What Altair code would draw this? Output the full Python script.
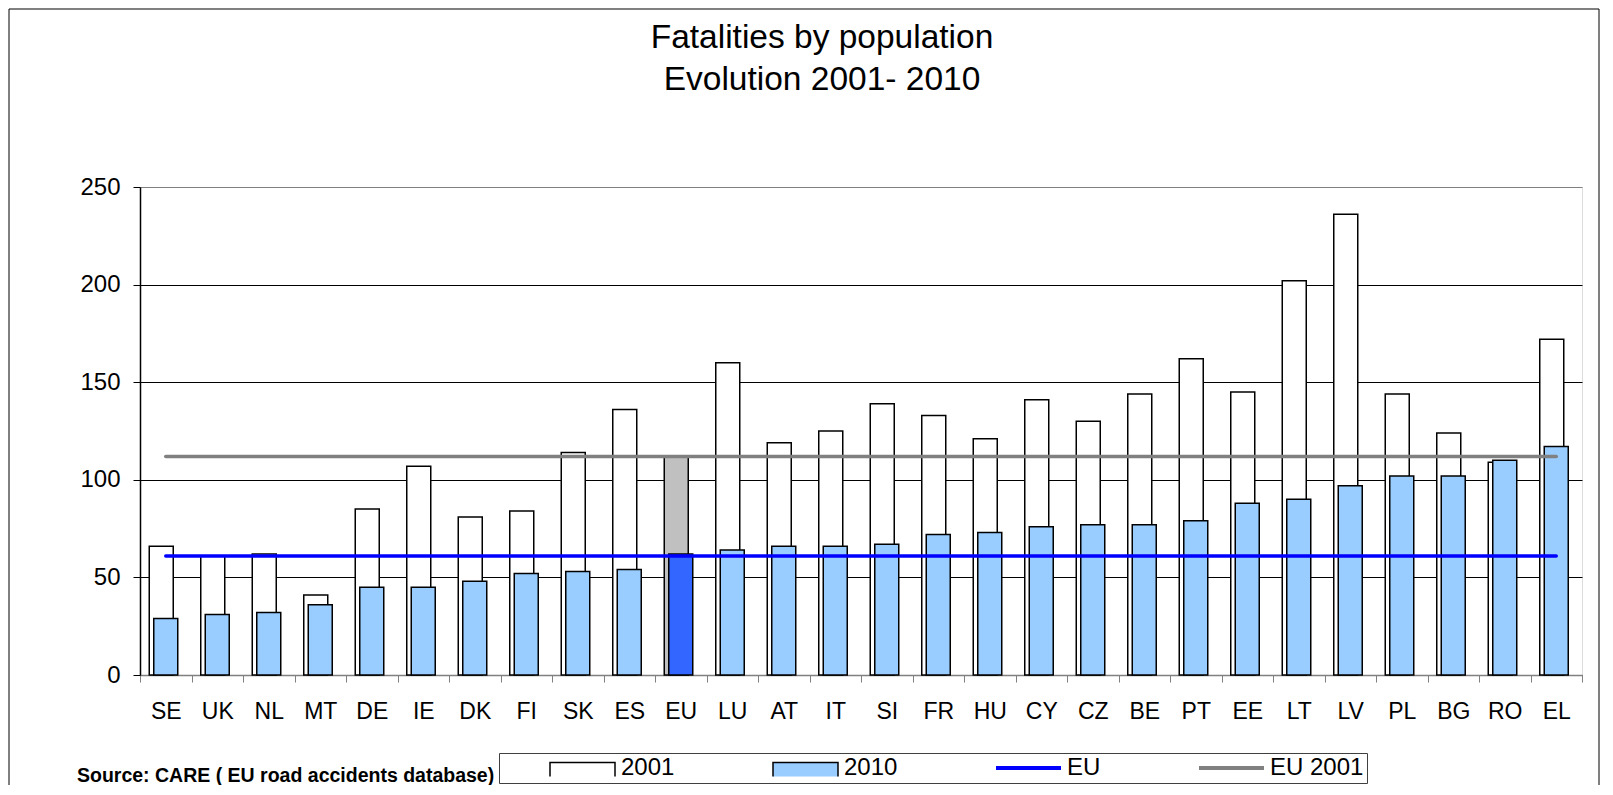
import altair as alt
import pandas as pd

# ---------------- data ----------------
countries = ["SE", "UK", "NL", "MT", "DE", "IE", "DK", "FI", "SK", "ES", "EU", "LU", "AT", "IT",
             "SI", "FR", "HU", "CY", "CZ", "BE", "PT", "EE", "LT", "LV", "PL", "BG", "RO", "EL"]
fat_2001 = [66, 61, 62, 41, 85, 107, 81, 84, 114, 136, 112, 160, 119, 125,
            139, 133, 121, 141, 130, 144, 162, 145, 202, 236, 144, 124, 109, 172]
fat_2010 = [29, 31, 32, 36, 45, 45, 48, 52, 53, 54, 62, 64, 66, 66,
            67, 72, 73, 76, 77, 77, 79, 88, 90, 97, 102, 102, 110, 117]
eu_avg_2010 = 61
eu_avg_2001 = 112
series = ["2001", "2010", "EU", "EU 2001"]
bar_fill = ["#FFFFFF", "#99CCFF"]
line_colors = ["#0000FF", "#808080"]
eu_bar_colors = ["#C0C0C0", "#3366FF"]
line_series = ["EU", "EU 2001"]
title_lines = ["Fatalities by population", "Evolution 2001- 2010"]
source_note = "Source: CARE ( EU road accidents database)"
y_ticks = [0, 50, 100, 150, 200, 250]

FONT = "Liberation Sans, Arial, sans-serif"

bars = pd.DataFrame({"country": countries, "v2001": fat_2001, "v2010": fat_2010})
lines = pd.DataFrame(
    [{"country": c, "series": s, "value": v}
     for s, v in zip(line_series, [eu_avg_2010, eu_avg_2001]) for c in countries]
)
note = pd.DataFrame({"t": [source_note]})
frame_df = pd.DataFrame({"k": [0]})

x_enc = alt.X(
    "country:N", sort=countries,
    scale=alt.Scale(domain=countries, paddingInner=0, paddingOuter=0),
    axis=alt.Axis(title=None, labelAngle=0, tickBand="extent", tickSize=7,
                  tickColor="#808080", domainColor="#808080", domainWidth=1.5,
                  labelFontSize=23, labelPadding=18, labelColor="black",
                  labelFont=FONT, grid=False),
)
y_scale = alt.Scale(domain=[0, 250], nice=False, zero=True)
y_axis = alt.Axis(title=None, values=y_ticks, tickSize=7, tickColor="black",
                  domainColor="black", domainWidth=1.5, labelFontSize=24,
                  labelPadding=13, labelColor="black", labelFont=FONT,
                  grid=True, gridWidth=1,
                  gridColor={"condition": {"test": "datum.value === 250", "value": "#808080"},
                             "value": "#000000"})

is_line = "indexof(" + str(line_series) + ", datum.value) >= 0"
fill_expr = ("datum.value === '" + series[0] + "' ? '" + bar_fill[0] + "' : datum.value === '"
             + series[1] + "' ? '" + bar_fill[1] + "' : 'transparent'")
pad_nbsp = "\u00a0" * 5
legend = alt.Legend(
    title=None, orient="none", legendX=359, legendY=566, direction="horizontal",
    columns=4, padding=3, strokeColor="#404040", fillColor="white",
    symbolSize=100, labelFont=FONT, labelFontSize=24, labelColor="black",
    labelOffset=95, columnPadding=50, gridAlign="none", labelLimit=400,
    labelExpr="datum.label === '" + series[-1] + "' ? datum.label + '" + pad_nbsp + "' : datum.label",
    symbolType={"expr": is_line + " ? 'M7.2,0H20.2' : 'M7.2,1.7V-1.1H20.2V1.7'"},
    symbolFillColor={"expr": fill_expr},
    symbolStrokeWidth={"expr": is_line + " ? 4 : 1.5"},
    symbolOpacity=1,
)

bar2001 = alt.Chart(bars).mark_bar(width=24, xOffset=-4.5, stroke="black", strokeWidth=1.5).encode(
    x=x_enc,
    y=alt.Y("v2001:Q", scale=y_scale, axis=y_axis),
    fill=alt.condition(alt.datum.country == "EU", alt.value(eu_bar_colors[0]), alt.value(bar_fill[0])),
)
bar2010 = alt.Chart(bars).mark_bar(width=24, xOffset=0, stroke="black", strokeWidth=1.5).encode(
    x=x_enc,
    y=alt.Y("v2010:Q", scale=y_scale, axis=y_axis),
    fill=alt.condition(alt.datum.country == "EU", alt.value(eu_bar_colors[1]), alt.value(bar_fill[1])),
)
line_layer = alt.Chart(lines).mark_line(strokeWidth=3.5, strokeCap="round").encode(
    x=x_enc,
    y=alt.Y("value:Q", scale=y_scale, axis=y_axis),
    color=alt.Color("series:N",
                    scale=alt.Scale(domain=series, range=["#000000", "#000000"] + line_colors),
                    legend=legend),
)
note_layer = alt.Chart(note).mark_text(
    align="left", baseline="alphabetic", fontSize=19.5, fontWeight="bold", font=FONT, color="black"
).encode(x=alt.value(-63), y=alt.value(595), text="t:N")

title_layers = [
    alt.Chart(pd.DataFrame({"t": [line]})).mark_text(
        align="center", baseline="alphabetic", fontSize=33.5, font=FONT, color="black"
    ).encode(x=alt.value(682), y=alt.value(ypos), text="t:N")
    for line, ypos in zip(title_lines, [-139, -97])
]

# outer chart-area frame (decoration)
frame_layer = alt.Chart(frame_df).mark_rect(fill="transparent", stroke="black", strokeWidth=1).encode(
    x=alt.value(-131), x2=alt.value(1459), y=alt.value(-178), y2=alt.value(640)
)

chart = alt.layer(frame_layer, bar2001, bar2010, line_layer, note_layer, *title_layers).properties(
    width=1442, height=488,
    padding={"left": 132, "top": 179, "right": 20, "bottom": 110},
    autosize=alt.AutoSizeParams(type="none"),
).configure_view(stroke="#808080", strokeWidth=2).configure(background="white")

chart.save("out.html", embed_options={"renderer": "svg", "actions": False})
